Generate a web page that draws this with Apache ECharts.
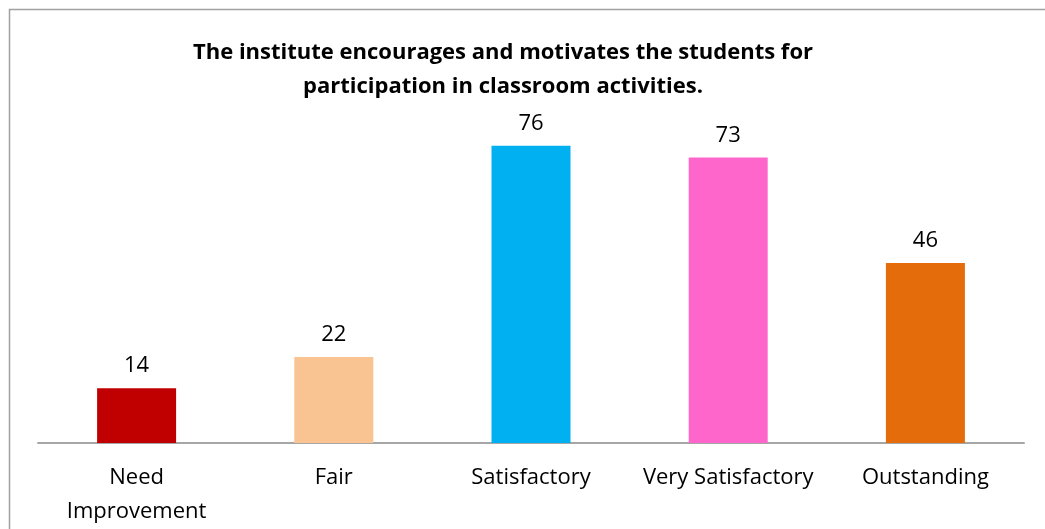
<!DOCTYPE html>
<html>
<head>
<meta charset="utf-8">
<script src="https://cdn.jsdelivr.net/npm/echarts@6/dist/echarts.min.js"></script>
<style>
  html, body { margin: 0; padding: 0; background: #fff; }
  #chart { width: 1045px; height: 529px; }
</style>
</head>
<body>
<div id="chart"></div>
<script>
var categories = ['Need\nImprovement', 'Fair', 'Satisfactory', 'Very Satisfactory', 'Outstanding'];
var values = [14, 22, 76, 73, 46];
var colors = ['#C00000', '#F9C392', '#00B0F0', '#FF66CC', '#E46C0A'];

var chart = echarts.init(document.getElementById('chart'));

chart.setOption({
  animation: false,
  textStyle: { fontFamily: 'Open Sans' },
  title: {
    text: 'The institute encourages and motivates the students for\nparticipation in classroom activities.',
    left: 498,
    top: 31,
    textAlign: 'center',
    textStyle: { fontSize: 22, fontWeight: 'bold', color: '#000', lineHeight: 34, fontFamily: 'Open Sans' }
  },
  graphic: [{
    type: 'rect',
    shape: { x: 9.5, y: 9.5, width: 1100, height: 600 },
    style: { fill: 'none', stroke: '#A0A0A0', lineWidth: 1.5 },
    silent: true
  }],
  grid: { left: 38, right: 21, top: 130, bottom: 86 },
  xAxis: {
    type: 'category',
    data: categories,
    axisLine: { lineStyle: { color: '#A6A6A6', width: 2 } },
    axisTick: { show: false },
    axisLabel: { color: '#000', fontSize: 22, lineHeight: 34, margin: 18, interval: 0 }
  },
  yAxis: {
    type: 'value',
    min: 0,
    max: 80,
    show: false
  },
  series: [{
    type: 'bar',
    barWidth: 79,
    data: values.map(function(v, i) {
      return { value: v, itemStyle: { color: colors[i] } };
    }),
    label: {
      show: true,
      position: 'top',
      distance: 11,
      color: '#000',
      fontSize: 22
    }
  }]
});
</script>
</body>
</html>
